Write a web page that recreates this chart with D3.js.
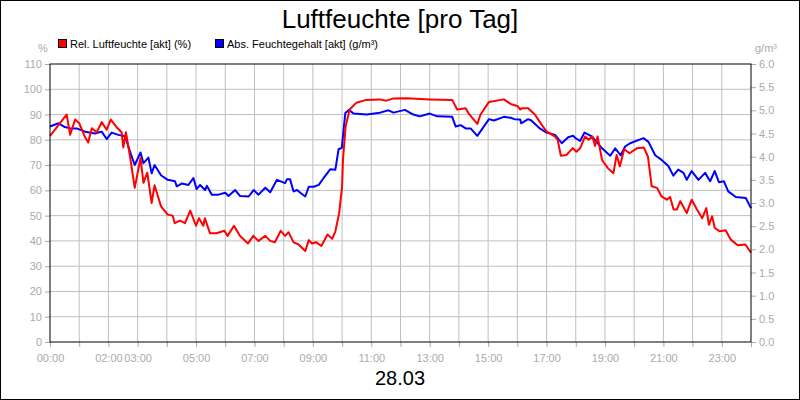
<!DOCTYPE html>
<html><head><meta charset="utf-8">
<script src="https://cdn.jsdelivr.net/npm/d3@7/dist/d3.min.js"></script>
<style>body{margin:0;background:#fff}svg{display:block;font-family:"Liberation Sans",Arial,sans-serif}</style>
</head><body><svg id="c" width="800" height="400"></svg>
<script>
const title = "Luftfeuchte [pro Tag]";
const dateLabel = "28.03";
const xTickHours = [0,2,3,5,7,9,11,13,15,17,19,21,23];
const leftTicks = d3.range(0,111,10);
const rightTicks = d3.range(0,6.01,0.5);
// Rel. Luftfeuchte (%): [hour, value]
const relHours = [0,0.17,0.34,0.57,0.69,0.86,1,1.2,1.31,1.43,1.6,1.77,1.94,2.08,2.28,2.45,2.51,2.6,2.74,2.9,3.1,3.2,3.33,3.48,3.58,3.8,4.03,4.2,4.27,4.45,4.62,4.8,5,5.1,5.25,5.3,5.48,5.7,5.97,6.08,6.3,6.5,6.78,6.96,7.14,7.37,7.54,7.7,7.9,8.05,8.17,8.34,8.5,8.74,8.86,8.97,9.11,9.29,9.5,9.66,9.77,9.9,10.0,10.03,10.12,10.26,10.49,10.83,11.29,11.51,11.74,12.2,13.0,13.77,13.94,14.23,14.33,14.63,14.74,15.03,15.54,15.77,16.1,16.0,16.15,16.37,16.6,16.83,17.0,17.29,17.38,17.49,17.68,17.9,18.02,18.15,18.32,18.44,18.57,18.66,18.75,18.9,19.1,19.29,19.4,19.51,19.66,19.84,20.1,20.33,20.47,20.6,20.78,20.94,21.12,21.23,21.35,21.46,21.58,21.8,21.97,22.15,22.33,22.47,22.56,22.67,22.76,22.93,23.13,23.31,23.54,23.81,24];
const relValues = [81.6,84,86.6,90,82,88,86.6,81,79,84.6,83,87,84,88,85,83,77,83,73.4,61,72.8,63,67,55,62,53.7,50.4,50,47,48,47,52,46,49,46,49,43,43,44,42,46,42,39,42,40,42,40,39.5,44,42,43.4,39.4,38.7,36,40.3,39,39.5,38,42.5,40.8,43.8,51,61.6,72,85.3,92,94.7,95.8,96,95.5,96.3,96.4,96,95.8,92,92.5,90.5,86.3,90,95,96,94.2,92,93.4,92.5,92.5,90,86,83.3,81.3,80,73.7,74,76.7,75.3,76.7,81.3,80,81.3,77.6,81.3,72,68.8,66.8,74,69.5,76.3,74.7,76.7,77,73.4,61.6,61,57.6,56.3,57.4,52.4,52.4,55.7,51,56.3,52.4,49,53,46.4,49.7,45.1,43.8,44.2,40.5,38.3,38.6,35.3];
// Abs. Feuchtegehalt (g/m³): [hour, value]
const absHours = [0,0.29,0.51,0.69,0.91,1.2,1.54,1.77,1.94,2.11,2.34,2.57,2.74,2.9,3.1,3.2,3.37,3.48,3.58,3.8,4.03,4.28,4.34,4.51,4.74,4.91,5.02,5.14,5.31,5.37,5.54,5.77,6.0,6.11,6.34,6.51,6.8,6.97,7.14,7.37,7.54,7.77,8.05,8.11,8.22,8.34,8.46,8.57,8.74,8.86,9.03,9.2,9.37,9.6,9.77,9.88,9.99,10.11,10.24,10.39,10.84,11.3,11.59,11.76,12.15,12.44,12.66,13.0,13.26,13.77,13.89,14.06,14.23,14.4,14.63,15.03,15.2,15.54,15.77,16.1,15.9,16.13,16.37,16.48,16.77,17.0,17.29,17.52,17.74,17.91,17.99,18.15,18.3,18.55,18.9,19.18,19.35,19.54,19.69,19.86,20.32,20.49,20.72,20.94,21.17,21.34,21.51,21.69,21.8,21.97,22.2,22.43,22.6,22.76,22.9,23.07,23.22,23.48,23.82,24];
const absValues = [4.65,4.72,4.64,4.61,4.61,4.54,4.5,4.54,4.38,4.52,4.47,4.44,4.11,3.82,4.09,3.86,3.98,3.64,3.82,3.6,3.5,3.47,3.36,3.42,3.39,3.54,3.3,3.39,3.28,3.37,3.18,3.18,3.22,3.15,3.28,3.15,3.14,3.28,3.18,3.33,3.23,3.5,3.43,3.51,3.51,3.25,3.28,3.22,3.14,3.35,3.35,3.39,3.54,3.73,3.72,4.16,4.19,4.94,5.01,4.93,4.91,4.95,5.0,4.95,5.01,4.91,4.87,4.93,4.87,4.86,4.65,4.68,4.61,4.61,4.45,4.81,4.78,4.86,4.84,4.8,4.81,4.72,4.81,4.78,4.61,4.52,4.47,4.29,4.42,4.45,4.4,4.34,4.52,4.44,4.18,4.02,4.18,4.03,4.22,4.29,4.4,4.32,4.03,3.93,3.8,3.59,3.72,3.65,3.5,3.69,3.5,3.65,3.47,3.69,3.45,3.47,3.25,3.13,3.11,2.89];

const svg = d3.select("#c");
const L=50,R=751,T=64,B=342;
const x = d3.scaleLinear().domain([0,24]).range([L,R]);
const yl = d3.scaleLinear().domain([0,110]).range([B,T]);
const yr = d3.scaleLinear().domain([0,6]).range([B,T]);
const grey="#aaa", grid="#bfbfbf";
svg.append("rect").attr("x",0.5).attr("y",0.5).attr("width",799).attr("height",399).attr("fill","#fff").attr("stroke","#000");
const g = svg.append("g");
// grid
g.selectAll(".vg").data(d3.range(1,24)).join("line").attr("x1",d=>x(d)).attr("x2",d=>x(d)).attr("y1",T).attr("y2",B).attr("stroke",grid);
g.selectAll(".hg").data(leftTicks.slice(1,-1)).join("line").attr("x1",L).attr("x2",R).attr("y1",d=>yl(d)).attr("y2",d=>yl(d)).attr("stroke",grid);
// axes
const ax = d3.axisBottom(x).tickValues(d3.range(0,25)).tickSize(5).tickFormat(d=>xTickHours.includes(d)?String(d).padStart(2,"0")+":00":"");
const axg = svg.append("g").attr("transform",`translate(0,${B})`).call(ax);
const aly = svg.append("g").attr("transform",`translate(${L},0)`).call(d3.axisLeft(yl).tickValues(leftTicks).tickSize(5).tickFormat(d3.format("d")));
const ary = svg.append("g").attr("transform",`translate(${R},0)`).call(d3.axisRight(yr).tickValues(rightTicks).tickSize(5).tickFormat(d3.format(".1f")));
[axg,aly,ary].forEach(a=>{a.select(".domain").remove();a.selectAll("line").attr("stroke",grey);a.selectAll("text").attr("fill",grey).style("font-size","11px").style("font-family","'Liberation Sans',Arial,sans-serif");});
axg.selectAll("text").attr("dy","1.1em");
// lines
const relData = relHours.map((h,i)=>[h,relValues[i]]).sort((a,b)=>a[0]-b[0]);
const absData = absHours.map((h,i)=>[h,absValues[i]]).sort((a,b)=>a[0]-b[0]);
svg.append("path").datum(absData).attr("fill","none").attr("stroke","#0000ff").attr("stroke-width",2).attr("stroke-linejoin","round")
  .attr("d",d3.line().x(d=>x(d[0])).y(d=>yr(d[1])));
svg.append("path").datum(relData).attr("fill","none").attr("stroke","#ff0000").attr("stroke-width",2).attr("stroke-linejoin","round")
  .attr("d",d3.line().x(d=>x(d[0])).y(d=>yl(d[1])));
// frame
svg.append("rect").attr("x",L).attr("y",T).attr("width",R-L).attr("height",B-T).attr("fill","none").attr("stroke","#000");
// texts
svg.append("text").attr("x",400).attr("y",28).attr("text-anchor","middle").style("font-size","26px").text(title);
svg.append("text").attr("x",400).attr("y",385).attr("text-anchor","middle").style("font-size","20px").text(dateLabel);
svg.append("text").attr("x",43).attr("y",52).attr("text-anchor","middle").attr("fill",grey).style("font-size","11px").text("%");
svg.append("text").attr("x",766).attr("y",52).attr("text-anchor","middle").attr("fill",grey).style("font-size","11px").text("g/m³");
const legend=[["Rel. Luftfeuchte [akt] (%)","#ff0000",58],["Abs. Feuchtegehalt [akt] (g/m³)","#0000ff",215]];
legend.forEach(([t,c,lx])=>{
  svg.append("rect").attr("x",lx+0.5).attr("y",39.5).attr("width",8).attr("height",8).attr("fill",c).attr("stroke","#000");
  svg.append("text").attr("x",lx+12).attr("y",48).style("font-size","11px").text(t);
});
</script></body></html>
